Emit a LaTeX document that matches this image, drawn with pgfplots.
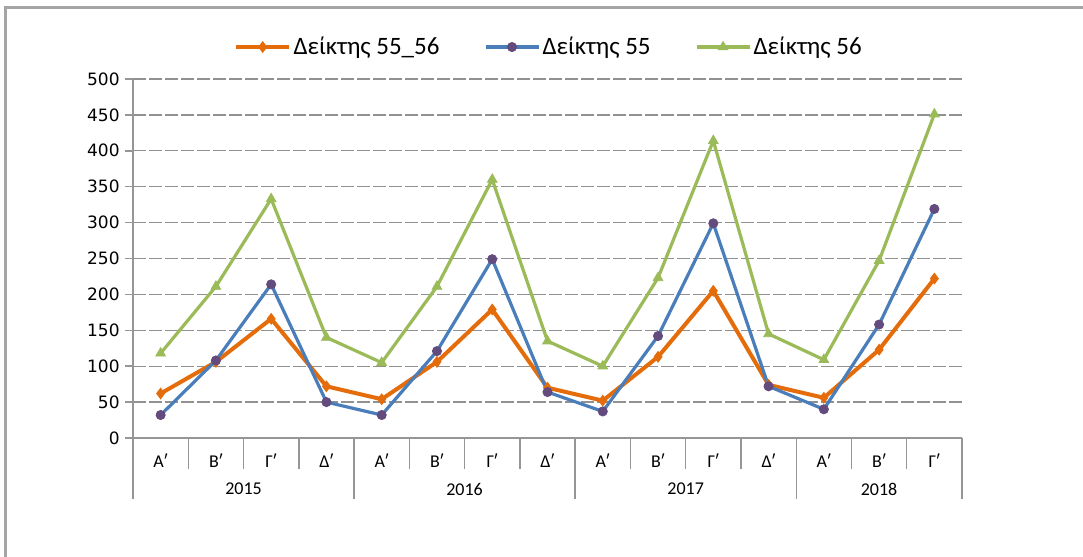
\documentclass[border=0pt]{standalone}
\usepackage{fontspec}
\setmainfont{Carlito}
\newfontfamily\dejavu{DejaVu Sans}
\usepackage{pgfplots}
\usepackage{pgfplotstable}
\pgfplotsset{compat=1.18}
\definecolor{cOr}{RGB}{228,108,10}
\definecolor{cBl}{RGB}{74,126,187}
\definecolor{cPu}{RGB}{100,75,125}
\definecolor{cGr}{RGB}{155,187,89}
\definecolor{cAx}{RGB}{150,150,150}
\definecolor{cGrid}{RGB}{145,145,145}
\definecolor{cFrame}{RGB}{165,165,165}

\pgfplotstableread{
x o b g
0 62 32 118
1 106 108 211
2 166 214 333
3 72 50 140
4 54 32 105
5 106 121 211
6 179 249 360
7 70 64 135
8 52 37 100
9 113 142 223
10 205 299 414
11 74 72 145
12 56 40 109
13 123 158 247
14 222 319 451
}\datatable

\begin{document}
\begin{tikzpicture}
\path[use as bounding box] (0,0) rectangle (541.5pt,278.5pt);
\draw[cFrame, line width=1.2pt] (2.75pt,0) -- (2.75pt,274.75pt) -- (541.5pt,274.75pt);
\begin{axis}[
  at={(66.5pt,59.5pt)}, anchor=south west,
  scale only axis, width=414.5pt, height=179.5pt,
  xmin=-0.5, xmax=14.5, ymin=0, ymax=500,
  axis x line*=bottom, axis y line*=left,
  axis line style={cAx, line width=0.7pt},
  clip=false,
  ytick={0,50,...,500},
  ymajorgrids,
  grid style={cGrid, line width=0.6pt, dash pattern=on 6.5pt off 1.5pt},
  tick align=outside,
  major tick length=4pt,
  ytick style={cAx, line width=0.7pt},
  xtick style={draw=none},
  /pgf/number format/assume math mode=true,
  yticklabel style={font=\dejavu\fontsize{8.5}{10}\selectfont, anchor=east, inner sep=0pt, xshift=-2.5pt},
  xtick={0,...,14},
  xticklabels={Αʹ,Βʹ,Γʹ,Δʹ,Αʹ,Βʹ,Γʹ,Δʹ,Αʹ,Βʹ,Γʹ,Δʹ,Αʹ,Βʹ,Γʹ},
  xticklabel style={font=\fontsize{9}{10}\selectfont, anchor=center, inner sep=0pt, yshift=-7.5pt},
  legend columns=3,
  legend style={at={(0.502,1.089)}, anchor=center, draw=none, fill=none,
    font=\fontsize{12.5}{14}\selectfont,
    nodes={inner sep=1.2pt},
    /tikz/every even column/.append style={column sep=21pt}},
  legend image code/.code={\draw[mark repeat=2,mark phase=2] plot coordinates {(0pt,0pt) (13.25pt,0pt) (26.5pt,0pt)};},
]
\addplot[cOr, line width=2pt, mark=diamond*, mark size=2.6pt, mark options={fill=cOr, line width=0.5pt}] table[x=x,y=o] {\datatable};
\addlegendentry{Δείκτης 55\_56}
\addplot[cBl, line width=1.6pt, mark=*, mark size=2.3pt, mark options={fill=cPu, draw=cPu, line width=0.4pt}] table[x=x,y=b] {\datatable};
\addlegendentry{Δείκτης 55}
\addplot[cGr, line width=1.6pt, mark=triangle*, mark size=2.8pt, mark options={fill=cGr, line width=0.4pt}] table[x=x,y=g] {\datatable};
\addlegendentry{Δείκτης 56}

\pgfplotsinvokeforeach{0.5,1.5,2.5,4.5,5.5,6.5,8.5,9.5,10.5,12.5,13.5}{
  \draw[cAx, line width=0.7pt] (axis cs:#1,0) -- ([yshift=-15.5pt]axis cs:#1,0);
}
\pgfplotsinvokeforeach{-0.5,3.5,7.5,11.5,14.5}{
  \draw[cAx, line width=0.7pt] (axis cs:#1,0) -- ([yshift=-30.5pt]axis cs:#1,0);
}
\node[font=\fontsize{9}{10}\selectfont, inner sep=0pt] at ([yshift=-25.5pt]axis cs:1.5,0) {2015};
\node[font=\fontsize{9}{10}\selectfont, inner sep=0pt] at ([yshift=-25.5pt]axis cs:5.5,0) {2016};
\node[font=\fontsize{9}{10}\selectfont, inner sep=0pt] at ([yshift=-25.5pt]axis cs:9.5,0) {2017};
\node[font=\fontsize{9}{10}\selectfont, inner sep=0pt] at ([yshift=-25.5pt]axis cs:13,0) {2018};
\end{axis}
\end{tikzpicture}
\end{document}
